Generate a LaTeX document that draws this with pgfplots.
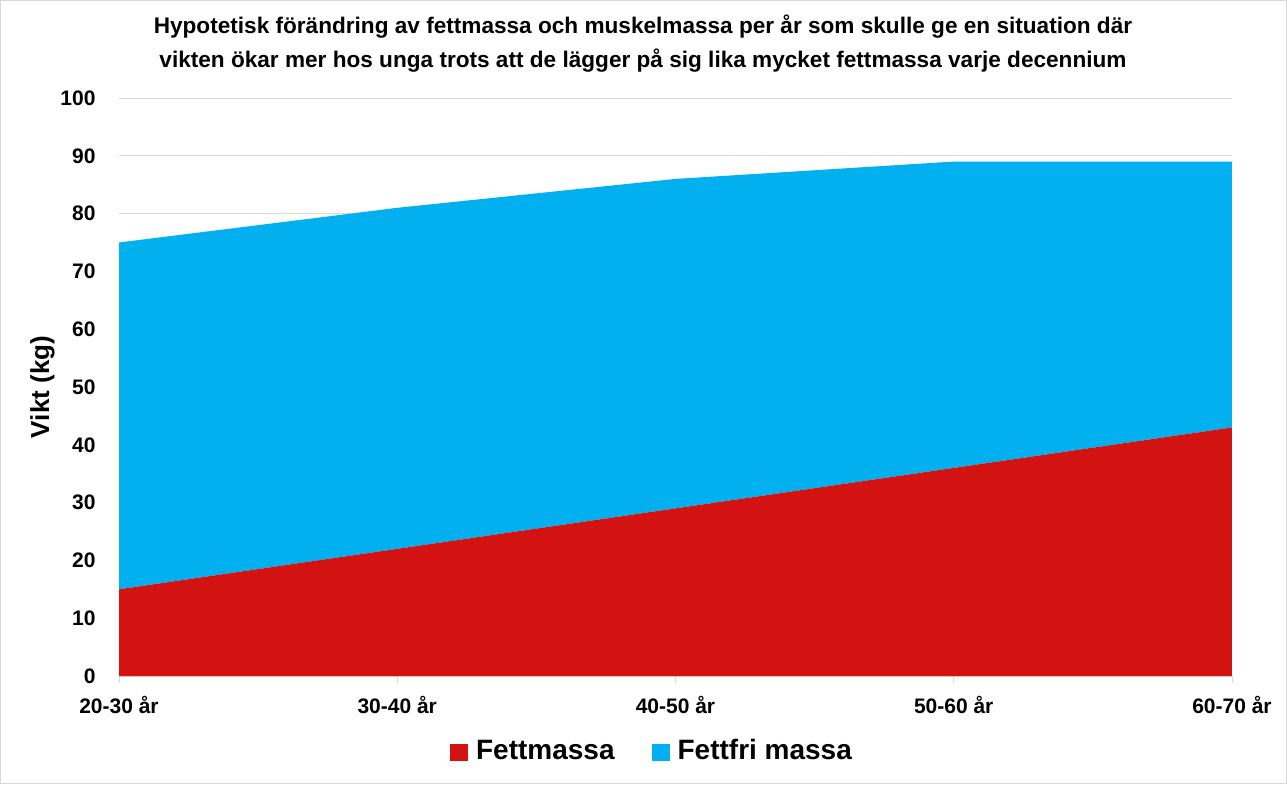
\documentclass[border=0pt]{standalone}
\usepackage{pgfplots}
\pgfplotsset{compat=1.18}
\usepackage{fontspec}
\setmainfont{Liberation Sans}
\definecolor{fred}{HTML}{D21312}
\definecolor{fblue}{HTML}{02B0F0}
\definecolor{gridc}{HTML}{D9D9D9}
\begin{document}
\begin{tikzpicture}
\path[use as bounding box] (0pt,0pt) rectangle (1287pt,784pt);
\draw[gridc] (0.5pt,0.5pt) rectangle (1286.5pt,783.5pt);
\node[font=\fontsize{22.6}{34}\selectfont\bfseries, align=center] at (643pt,740pt) {Hypotetisk förändring av fettmassa och muskelmassa per år som skulle ge en situation där\\vikten ökar mer hos unga trots att de lägger på sig lika mycket fettmassa varje decennium};
\begin{axis}[
  at={(119pt,108pt)}, anchor=south west,
  scale only axis, width=1113pt, height=578pt,
  xmin=0, xmax=4, ymin=0, ymax=100,
  xtick={0,1,2,3,4},
  xticklabels={20-30 år,30-40 år,40-50 år,50-60 år,60-70 år},
  ytick={0,10,...,100},
  ymajorgrids, grid style={gridc, line width=0.8pt},
  axis y line*=left, y axis line style={draw=none},
  axis x line*=bottom, x axis line style={draw=gridc, line width=0.8pt},
  ytick style={draw=none},
  xtick style={draw=gridc, line width=0.8pt},
  tick align=outside, major tick length=7pt,
  /pgf/number format/assume math mode=true,
  ticklabel style={font=\fontsize{21}{24}\selectfont\bfseries},
  xticklabel style={yshift=-10pt},
  yticklabel style={xshift=-13pt},
  ylabel={Vikt (kg)},
  ylabel style={font=\fontsize{26}{28}\selectfont\bfseries, yshift=-1pt},
  stack plots=y,
  area legend,
  legend columns=2,
  legend style={at={(0.478,-0.1315)}, anchor=center, draw=none, fill=none,
    font=\fontsize{28}{30}\selectfont\bfseries,
    nodes={text height=21pt, text depth=6pt, inner sep=0pt},
    /tikz/every odd column/.append style={column sep=8pt},
    /tikz/every even column/.append style={column sep=37pt}},
  legend image code/.code={\fill[#1] (0pt,-9pt) rectangle (18pt,8pt);},
]
\addplot[fill=fred, draw=none] coordinates {(0,15) (1,22) (2,29) (3,36) (4,43)} \closedcycle;
\addlegendentry{Fettmassa}
\addplot[fill=fblue, draw=none] coordinates {(0,60) (1,59) (2,57) (3,53) (4,46)} \closedcycle;
\addlegendentry{Fettfri massa}
\end{axis}
\end{tikzpicture}
\end{document}
